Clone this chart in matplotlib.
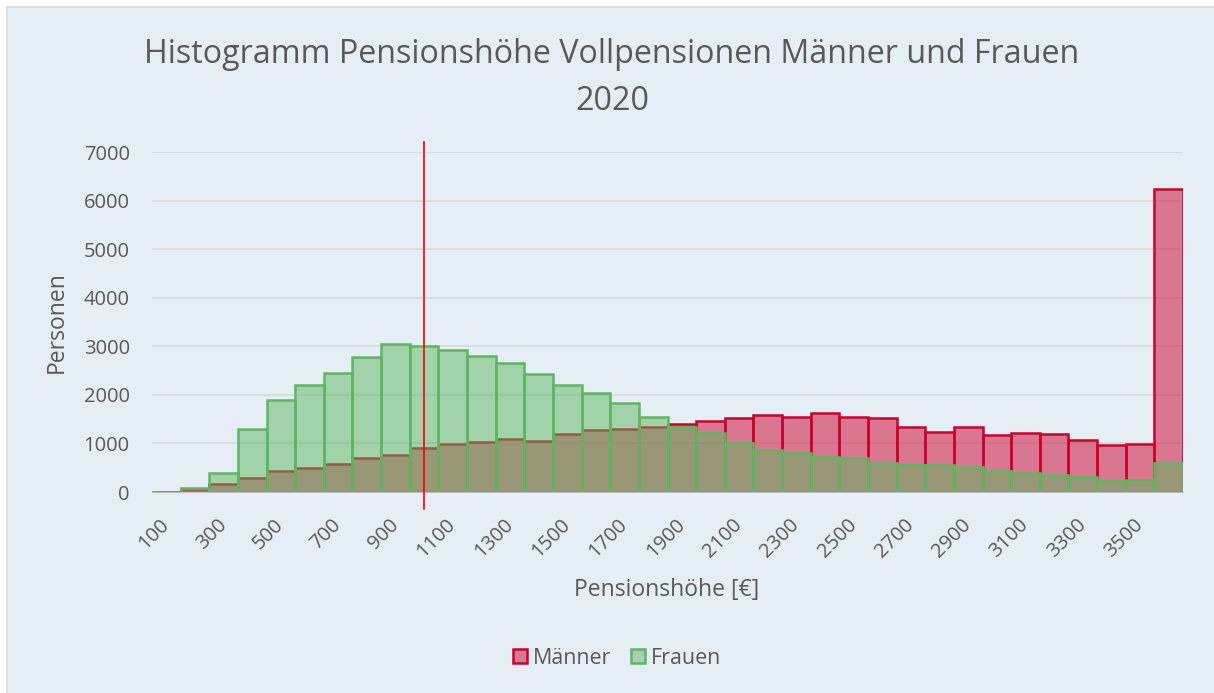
import matplotlib
matplotlib.use('Agg')
import matplotlib.pyplot as plt
from matplotlib.patches import Rectangle, Patch
import numpy as np

# Pension classes (EUR), Men and Women counts
classes = [100, 200, 300, 400, 500, 600, 700, 800, 900, 1000,
           1100, 1200, 1300, 1400, 1500, 1600, 1700, 1800, 1900, 2000,
           2100, 2200, 2300, 2400, 2500, 2600, 2700, 2800, 2900, 3000,
           3100, 3200, 3300, 3400, 3500, 3600]
maenner = [5, 45, 170, 285, 440, 490, 575, 710, 770, 910,
           990, 1030, 1090, 1060, 1200, 1285, 1295, 1330, 1400, 1460,
           1520, 1580, 1535, 1625, 1540, 1525, 1330, 1240, 1335, 1180,
           1225, 1190, 1070, 965, 980, 6245]
frauen = [10, 85, 400, 1300, 1885, 2200, 2440, 2770, 3040, 3015,
          2915, 2805, 2660, 2435, 2195, 2035, 1835, 1540, 1335, 1220,
          1000, 875, 805, 715, 710, 600, 550, 565, 515, 435,
          395, 350, 305, 235, 240, 590]
tick_labels = [str(c) for c in classes[::2]]
median_idx = 9  # red marker line at class 1000

FONT = 'Open Sans'
TXT = '#595959'
BG = '#E6EEF5'
RED = '#CC022A'
GREEN = '#5DB760'

plt.rcParams['font.family'] = FONT

fig = plt.figure(figsize=(12.14, 6.93), dpi=100)
fig.patch.set_facecolor('white')
fig.patches.append(Rectangle((7 / 1214, -0.05), 1.1, 1 - 7 / 693 + 0.05,
                             transform=fig.transFigure, facecolor=BG,
                             edgecolor='#D9D9D9', linewidth=1.2, zorder=-10))

ax = fig.add_axes([152 / 1214, 1 - 492 / 693, (1183 - 152) / 1214, (492 - 152) / 693])
ax.set_facecolor('none')

x = np.arange(len(classes))
ax.bar(x, maenner, width=1.0, color=RED, alpha=0.5, edgecolor='none', zorder=2)
ax.bar(x, maenner, width=1.0, facecolor='none', edgecolor=RED, linewidth=1.8, zorder=2)
ax.bar(x, frauen, width=1.0, color=GREEN, alpha=0.5, edgecolor='none', zorder=3)
ax.bar(x, frauen, width=1.0, facecolor='none', edgecolor=GREEN, linewidth=1.8, zorder=3)

ax.set_xlim(-0.5, len(classes) - 0.5)
ax.set_ylim(0, 7000)
ax.set_yticks(np.arange(0, 7001, 1000))
ax.grid(axis='y', color='#D9D9D9', linewidth=1.2, zorder=0)
ax.set_axisbelow(True)
for s in ['top', 'right', 'left']:
    ax.spines[s].set_visible(False)
ax.spines['bottom'].set_color('#BFBFBF')
ax.spines['bottom'].set_zorder(4)

ax.set_xticks(x[::2])
ax.set_xticklabels(tick_labels, rotation=45, ha='right', va='center',
                   rotation_mode='anchor', fontsize=14.5, color=TXT)
ax.tick_params(axis='x', length=0, pad=21.5)
ax.tick_params(axis='y', length=0, pad=16, labelsize=14.5, labelcolor=TXT)

# red marker line, reaching past the plot area
ax.plot([median_idx, median_idx], [-345, 7200], color='#FF0000', linewidth=1.2,
        clip_on=False, zorder=5)

fig.text(57 / 1214, 1 - 322 / 693, 'Personen', rotation=90, ha='center', va='center',
         fontsize=16.5, color=TXT)
fig.text(667 / 1214, 1 - 590 / 693, 'Pensionshöhe [€]', ha='center', va='center',
         fontsize=16.5, color=TXT)

fig.text(612 / 1214, 1 - 78 / 693, 'Histogramm Pensionshöhe Vollpensionen Männer und Frauen\n2020',
         ha='center', va='center', fontsize=23.2, color=TXT, linespacing=1.55)

handles = [Patch(facecolor='#D9788F', edgecolor=RED, linewidth=1.8, label='Männer'),
           Patch(facecolor='#A3D3AC', edgecolor=GREEN, linewidth=1.8, label='Frauen')]
fig.legend(handles=handles, loc='center', bbox_to_anchor=(617 / 1214, 1 - 658 / 693), ncol=2,
           frameon=False, fontsize=15.4, labelcolor=TXT, handlelength=0.65, handleheight=0.65,
           handletextpad=0.3, columnspacing=0.9)

fig.savefig('out.png', dpi=100)
